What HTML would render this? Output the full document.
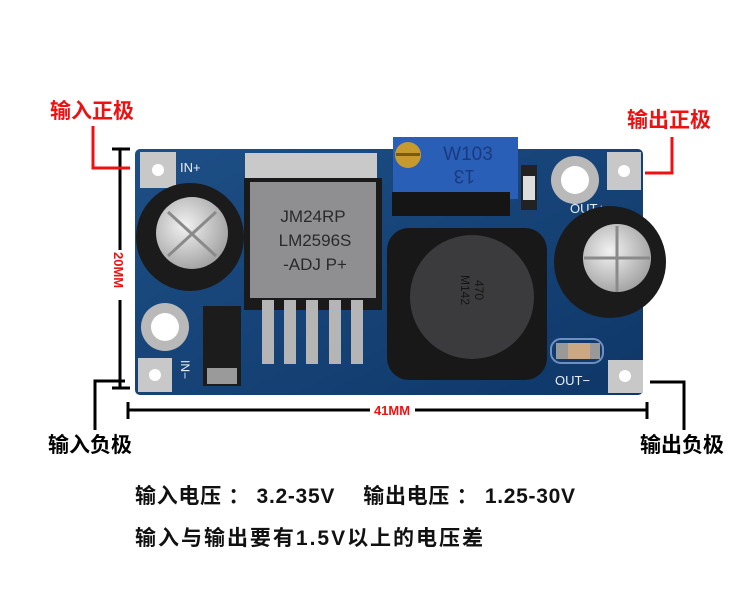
<!DOCTYPE html>
<html><head><meta charset="utf-8"><style>
html,body{margin:0;padding:0;background:#fff;width:750px;height:608px;overflow:hidden}
svg{display:block}
text{font-family:"Liberation Sans","Noto Sans CJK SC",sans-serif}
</style></head><body>
<svg width="750" height="608" viewBox="0 0 750 608" xmlns="http://www.w3.org/2000/svg">
<defs>
<radialGradient id="sil" cx="40%" cy="40%" r="70%"><stop offset="0" stop-color="#f2f2f2"/><stop offset="1" stop-color="#9a9a9a"/></radialGradient>
<linearGradient id="pcb" x1="0" y1="0" x2="1" y2="1"><stop offset="0" stop-color="#1d4f86"/><stop offset="1" stop-color="#0f3768"/></linearGradient>
</defs>
<rect x="135" y="149" width="508" height="246" rx="5" fill="url(#pcb)"/>
<rect x="140" y="152" width="36" height="36" fill="#c8c8c8"/><circle cx="158" cy="170" r="6" fill="#fff"/>
<rect x="138" y="358" width="34" height="34" fill="#c8c8c8"/><circle cx="155" cy="375" r="6" fill="#fff"/>
<rect x="607" y="152" width="34" height="38" fill="#c8c8c8"/><circle cx="624" cy="171" r="6" fill="#fff"/>
<rect x="608" y="360" width="35" height="33" fill="#c8c8c8"/><circle cx="625" cy="376" r="6" fill="#fff"/>
<circle cx="165" cy="327" r="24" fill="#b9b9b9"/><circle cx="165" cy="327" r="14" fill="#fff"/>
<circle cx="575" cy="180" r="24" fill="#b9b9b9"/><circle cx="575" cy="180" r="14" fill="#fff"/>
<text x="180" y="172" font-size="13" fill="#e8eef6">IN+</text>
<text x="570" y="213" font-size="13" fill="#e8eef6">OUT+</text>
<text x="555" y="385" font-size="13" fill="#e8eef6">OUT−</text>
<text x="0" y="0" font-size="12" fill="#e8eef6" transform="translate(181,360) rotate(90)">IN−</text>
<circle cx="190" cy="237" r="54" fill="#1b1b1b"/>
<circle cx="192" cy="233" r="36" fill="url(#sil)"/>
<path d="M168 212 L216 256 M216 212 L168 256" stroke="#8a8a8a" stroke-width="3"/>
<rect x="245" y="153" width="132" height="30" fill="#c9c9c9"/>
<rect x="244" y="178" width="138" height="132" fill="#1a1a1a"/>
<rect x="250" y="182" width="126" height="116" fill="#8f8f92"/>
<text x="313" y="222" font-size="17" fill="#2a2a2a" text-anchor="middle" font-family="Liberation Mono">JM24RP</text>
<text x="315" y="246" font-size="17" fill="#2a2a2a" text-anchor="middle" font-family="Liberation Mono">LM2596S</text>
<text x="315" y="270" font-size="17" fill="#2a2a2a" text-anchor="middle" font-family="Liberation Mono">-ADJ  P+</text>
<g fill="#b5b5b5">
<rect x="262" y="300" width="12" height="64"/><rect x="284" y="300" width="12" height="64"/><rect x="306" y="300" width="12" height="64"/><rect x="329" y="300" width="12" height="64"/><rect x="351" y="300" width="12" height="64"/>
</g>
<rect x="203" y="306" width="38" height="80" fill="#1c1c1c"/>
<rect x="207" y="368" width="30" height="16" fill="#9a9a9a"/>
<rect x="393" y="137" width="125" height="62" fill="#2a5fb8"/>
<rect x="392" y="192" width="118" height="24" fill="#151515"/>
<circle cx="408" cy="155" r="13" fill="#c79a2e"/>
<rect x="396" y="153" width="24" height="3" fill="#7a5a10"/>
<text x="468" y="160" font-size="19" fill="#1a3a80" text-anchor="middle">W103</text>
<text x="0" y="0" font-size="19" fill="#1a3a80" transform="translate(475,170) rotate(180)">13</text>
<rect x="521" y="165" width="16" height="45" fill="#222"/><rect x="523" y="176" width="12" height="24" fill="#ddd"/>
<rect x="387" y="228" width="160" height="152" rx="22" fill="#181818"/>
<circle cx="472" cy="297" r="62" fill="#3b3b3d"/>
<text x="0" y="0" font-size="12" fill="#151515" transform="translate(475,280) rotate(90)">470</text>
<text x="0" y="0" font-size="12" fill="#151515" transform="translate(461,275) rotate(90)">M142</text>
<circle cx="610" cy="262" r="56" fill="#1b1b1b"/>
<circle cx="617" cy="258" r="34" fill="url(#sil)"/>
<path d="M617 226 V292 M584 258 H650" stroke="#8a8a8a" stroke-width="3"/>
<rect x="551" y="339" width="52" height="24" rx="10" fill="none" stroke="#6f8fbf" stroke-width="2"/>
<rect x="556" y="343" width="12" height="16" fill="#999"/><rect x="568" y="343" width="22" height="16" fill="#c9a883"/><rect x="590" y="343" width="10" height="16" fill="#999"/>
<g stroke="#000" stroke-width="3" fill="none">
<path d="M120 150 V250 M120 300 V388"/>
<path d="M112 149 H130 M112 388 H130"/>
<path d="M128 410 H370 M415 410 H647"/>
<path d="M128 402 V419 M647 402 V419"/>
<path d="M125 381 H95 V430"/>
<path d="M650 382 H684 V430"/>
</g>
<g stroke="#ee1111" stroke-width="3" fill="none">
<path d="M93 126 V168 H130"/>
<path d="M672 137 V173 H645"/>
</g>
<text x="0" y="0" font-size="13" font-weight="bold" fill="#ee1111" transform="translate(114,252) rotate(90)">20MM</text>
<text x="392" y="415" font-size="13" font-weight="bold" fill="#ee1111" text-anchor="middle">41MM</text>
<text x="50" y="118" font-size="21" font-weight="bold" fill="#ee1111">输入正极</text>
<text x="627" y="127" font-size="21" font-weight="bold" fill="#ee1111">输出正极</text>
<text x="48" y="452" font-size="21" font-weight="bold" fill="#000">输入负极</text>
<text x="640" y="452" font-size="21" font-weight="bold" fill="#000">输出负极</text>
<text x="135" y="503" font-size="21" font-weight="bold" fill="#111" textLength="440" lengthAdjust="spacing">输入电压 ： 3.2-35V　 输出电压 ： 1.25-30V</text>
<text x="135" y="545" font-size="21" font-weight="bold" fill="#111" textLength="348" lengthAdjust="spacing">输入与输出要有1.5V以上的电压差</text>
</svg>
</body></html>
